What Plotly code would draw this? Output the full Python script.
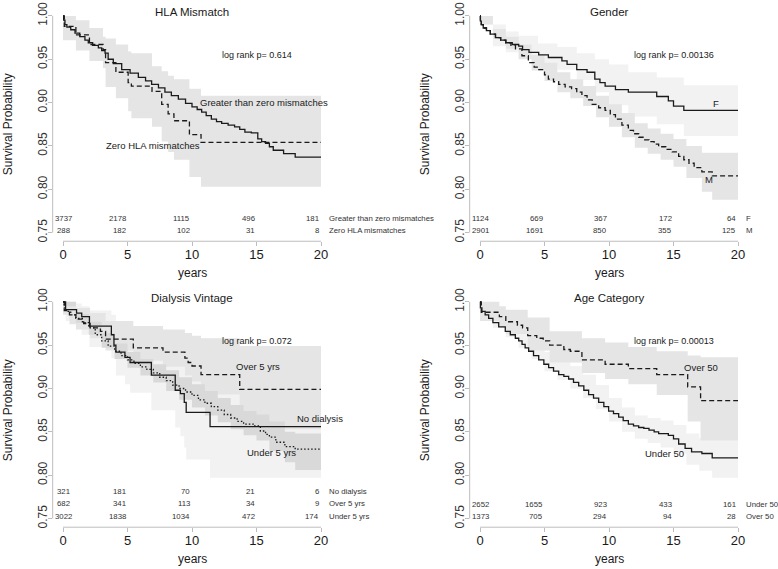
import plotly.graph_objects as go

# ---------------- data ----------------
x_ticks = [0, 5, 10, 15, 20]
y_ticks = [0.75, 0.80, 0.85, 0.90, 0.95, 1.00]
y_tick_labels = ["0.75", "0.80", "0.85", "0.90", "0.95", "1.00"]
risk_times = [0, 5, 10, 15, 20]

# HLA Mismatch
hla_gt0_t = [0, 0.05, 0.15, 0.3, 0.6, 0.93, 1.3, 1.7, 1.96, 2.3, 2.74, 3.0, 3.26, 3.5, 3.9, 4.55, 5.2, 5.84, 6.4, 6.87, 7.4, 7.9, 8.4, 8.94, 9.5, 10.0, 10.4, 10.75, 11.1, 11.5, 11.9, 12.3, 12.8, 13.3, 13.7, 14.1, 14.6, 15.1, 15.4, 15.7, 16.0, 16.3, 17.1, 18.0]
hla_gt0_s = [1.0, 0.995, 0.990, 0.987, 0.984, 0.980, 0.976, 0.972, 0.969, 0.966, 0.963, 0.960, 0.957, 0.950, 0.945, 0.938, 0.934, 0.929, 0.925, 0.921, 0.917, 0.912, 0.908, 0.904, 0.899, 0.895, 0.892, 0.889, 0.885, 0.881, 0.878, 0.876, 0.874, 0.872, 0.869, 0.866, 0.865, 0.858, 0.855, 0.853, 0.849, 0.845, 0.841, 0.837]
hla_zero_t = [0, 0.1, 1.0, 2.05, 3.1, 3.3, 4.1, 5.05, 5.3, 6.9, 7.65, 8.15, 8.6, 9.8, 10.7]
hla_zero_s = [1.0, 0.988, 0.978, 0.967, 0.961, 0.946, 0.935, 0.923, 0.919, 0.913, 0.898, 0.887, 0.879, 0.863, 0.854]
hla_zero_band_t = [0, 1.0, 2.05, 3.1, 3.3, 4.1, 5.05, 5.3, 6.9, 7.65, 8.15, 8.6, 9.8, 10.7]
hla_zero_band_hi = [1.0, 0.995, 0.986, 0.976, 0.974, 0.967, 0.959, 0.957, 0.942, 0.936, 0.931, 0.927, 0.916, 0.908]
hla_zero_band_lo = [0.972, 0.960, 0.948, 0.940, 0.918, 0.905, 0.890, 0.882, 0.872, 0.855, 0.843, 0.834, 0.814, 0.803]
hla_risk_gt0 = [3737, 2178, 1115, 496, 181]
hla_risk_zero = [288, 182, 102, 31, 8]

# Gender
f_t = [0, 0.03, 0.1, 0.25, 0.5, 0.8, 1.2, 1.6, 2.0, 2.5, 3.0, 3.3, 3.8, 4.55, 5.3, 6.35, 6.75, 7.5, 8.3, 8.9, 9.3, 9.7, 10.5, 11.5, 13.7, 14.6, 15.0, 15.8]
f_s = [1.0, 0.994, 0.99, 0.986, 0.983, 0.979, 0.975, 0.972, 0.969, 0.967, 0.965, 0.961, 0.958, 0.955, 0.952, 0.948, 0.944, 0.938, 0.935, 0.927, 0.923, 0.919, 0.915, 0.912, 0.907, 0.902, 0.896, 0.891]
m_t = [0, 0.03, 0.1, 0.25, 0.5, 0.8, 1.2, 1.6, 2.0, 2.4, 2.75, 3.25, 3.75, 4.2, 4.55, 5.0, 5.3, 5.7, 6.1, 6.6, 7.1, 7.5, 7.9, 8.3, 8.7, 9.2, 9.7, 10.1, 10.5, 11.0, 11.5, 11.9, 12.3, 12.7, 13.1, 13.5, 13.85, 14.4, 14.9, 15.4, 15.8, 16.2, 16.6, 17.2, 18.0]
m_s = [1.0, 0.994, 0.99, 0.986, 0.983, 0.979, 0.975, 0.972, 0.969, 0.966, 0.962, 0.954, 0.946, 0.941, 0.938, 0.932, 0.927, 0.924, 0.921, 0.918, 0.916, 0.912, 0.908, 0.903, 0.898, 0.894, 0.891, 0.886, 0.881, 0.874, 0.868, 0.864, 0.860, 0.857, 0.855, 0.852, 0.849, 0.846, 0.843, 0.838, 0.834, 0.830, 0.825, 0.820, 0.8155]
f_band_t = [0, 1.0, 2.0, 3.0, 4.5, 6.0, 7.5, 8.9, 10.0, 11.5, 13.7, 15.8]
f_band_hi = [1.0, 0.99, 0.982, 0.977, 0.968, 0.964, 0.957, 0.950, 0.944, 0.935, 0.929, 0.920]
f_band_lo = [0.99, 0.965, 0.958, 0.952, 0.944, 0.938, 0.926, 0.912, 0.897, 0.884, 0.875, 0.8615]
m_band_t = [0, 1.0, 2.0, 3.0, 4.0, 5.0, 6.0, 7.0, 8.0, 9.0, 10.0, 11.0, 12.0, 13.0, 14.0, 15.0, 16.0, 17.2, 18.0]
m_band_hi = [1.0, 0.985, 0.976, 0.967, 0.955, 0.946, 0.935, 0.927, 0.919, 0.908, 0.898, 0.888, 0.876, 0.870, 0.864, 0.858, 0.850, 0.842, 0.842]
m_band_lo = [0.99, 0.973, 0.962, 0.950, 0.937, 0.925, 0.912, 0.905, 0.896, 0.883, 0.872, 0.860, 0.848, 0.841, 0.834, 0.826, 0.813, 0.797, 0.788]
risk_f = [1124, 669, 367, 172, 64]
risk_m = [2901, 1691, 850, 355, 125]

# Dialysis Vintage
nod_t = [0, 0.2, 1.05, 1.45, 2.05, 3.75, 3.95, 4.1, 4.8, 5.2, 6.85, 8.7, 9.1, 9.4, 9.55, 11.4]
nod_s = [1.0, 0.991, 0.987, 0.983, 0.972, 0.962, 0.950, 0.942, 0.936, 0.930, 0.9155, 0.898, 0.894, 0.884, 0.8725, 0.856]
ov5_t = [0, 0.1, 0.5, 1.0, 1.6, 2.1, 2.9, 3.3, 5.45, 7.75, 9.45, 9.7, 10.0, 10.7, 13.7]
ov5_s = [1.0, 0.99, 0.985, 0.98, 0.975, 0.97, 0.966, 0.957, 0.947, 0.942, 0.935, 0.93, 0.926, 0.916, 0.899]
un5_t = [0, 0.1, 0.25, 0.6, 1.0, 1.5, 2.0, 2.5, 3.0, 3.5, 4.0, 4.5, 5.0, 5.5, 6.0, 6.5, 7.0, 7.5, 8.0, 8.5, 9.0, 9.5, 10.0, 10.5, 11.0, 11.5, 12.0, 12.5, 13.0, 13.5, 14.0, 14.8, 15.3, 15.7, 16.0, 16.5, 17.2, 18.0]
un5_s = [1.0, 0.993, 0.989, 0.985, 0.981, 0.976, 0.970, 0.962, 0.955, 0.949, 0.943, 0.938, 0.933, 0.929, 0.925, 0.922, 0.918, 0.913, 0.909, 0.904, 0.900, 0.896, 0.892, 0.887, 0.883, 0.879, 0.875, 0.870, 0.866, 0.862, 0.859, 0.857, 0.851, 0.847, 0.844, 0.838, 0.833, 0.830]
nod_band_t = [0, 0.2, 1.05, 1.45, 2.05, 3.75, 4.1, 4.8, 5.2, 6.85, 8.7, 9.1, 9.4, 9.55, 11.4]
nod_band_hi = [1.0, 1.0, 0.998, 0.995, 0.99, 0.985, 0.975, 0.970, 0.966, 0.957, 0.944, 0.940, 0.935, 0.928, 0.918]
nod_band_lo = [0.99, 0.978, 0.970, 0.962, 0.948, 0.935, 0.915, 0.905, 0.895, 0.875, 0.855, 0.845, 0.832, 0.818, 0.797]
ov5_band_t = [0, 0.5, 1.0, 2.1, 3.3, 5.45, 7.75, 9.45, 10.0, 10.7, 13.7]
ov5_band_hi = [1.0, 0.996, 0.993, 0.987, 0.978, 0.972, 0.968, 0.964, 0.961, 0.958, 0.949]
ov5_band_lo = [0.985, 0.974, 0.968, 0.958, 0.944, 0.932, 0.925, 0.915, 0.908, 0.893, 0.853]
un5_band_t = [0, 1.0, 2.0, 3.0, 4.0, 5.0, 6.0, 7.0, 8.0, 9.0, 10.0, 11.0, 12.0, 13.0, 14.0, 15.0, 16.0, 17.2, 18.0]
un5_band_hi = [1.0, 0.986, 0.977, 0.964, 0.952, 0.942, 0.934, 0.928, 0.921, 0.913, 0.905, 0.897, 0.889, 0.881, 0.874, 0.870, 0.862, 0.850, 0.848]
un5_band_lo = [0.995, 0.976, 0.962, 0.947, 0.934, 0.924, 0.915, 0.907, 0.897, 0.887, 0.878, 0.869, 0.861, 0.853, 0.846, 0.840, 0.828, 0.815, 0.806]
risk_nod = [321, 181, 70, 21, 6]
risk_ov5 = [682, 341, 113, 34, 9]
risk_un5 = [3022, 1838, 1034, 472, 174]

# Age Category
u50_t = [0, 0.03, 0.15, 0.4, 0.67, 1.0, 1.45, 1.96, 2.35, 2.74, 3.0, 3.26, 3.5, 3.77, 4.15, 4.55, 4.95, 5.32, 5.7, 6.1, 6.5, 6.87, 7.25, 7.65, 8.05, 8.42, 8.8, 9.2, 9.6, 9.97, 10.35, 10.75, 11.1, 11.5, 11.9, 12.3, 12.7, 13.1, 13.5, 13.85, 14.6, 15.0, 15.4, 15.9, 16.4, 17.2, 18.0]
u50_s = [1.0, 0.993, 0.989, 0.985, 0.981, 0.976, 0.971, 0.966, 0.962, 0.958, 0.955, 0.951, 0.947, 0.943, 0.938, 0.933, 0.928, 0.924, 0.920, 0.916, 0.914, 0.911, 0.907, 0.903, 0.898, 0.893, 0.889, 0.884, 0.879, 0.874, 0.871, 0.867, 0.863, 0.859, 0.857, 0.855, 0.854, 0.852, 0.850, 0.848, 0.846, 0.842, 0.836, 0.831, 0.827, 0.825, 0.820]
o50_t = [0, 0.1, 1.5, 2.0, 2.9, 3.3, 3.7, 4.4, 4.9, 5.4, 6.5, 7.0, 7.9, 9.7, 11.5, 13.7, 16.1, 17.1]
o50_s = [1.0, 0.988, 0.983, 0.977, 0.973, 0.970, 0.961, 0.958, 0.955, 0.950, 0.945, 0.943, 0.933, 0.928, 0.923, 0.916, 0.902, 0.886]
u50_band_t = [0, 1, 2, 3, 4, 5, 6, 7, 8, 9, 10, 11, 12, 13, 14, 15, 16, 17, 18]
u50_band_hi = [1.0, 0.983, 0.974, 0.965, 0.953, 0.942, 0.933, 0.926, 0.916, 0.904, 0.889, 0.878, 0.869, 0.866, 0.863, 0.858, 0.848, 0.843, 0.842]
u50_band_lo = [0.995, 0.970, 0.959, 0.947, 0.934, 0.920, 0.910, 0.900, 0.889, 0.876, 0.862, 0.850, 0.842, 0.837, 0.832, 0.825, 0.812, 0.805, 0.797]
o50_band_t = [0, 1.5, 2.0, 3.7, 5.4, 7.9, 9.7, 11.5, 13.7, 16.1, 17.1]
o50_band_hi = [1.0, 0.995, 0.991, 0.982, 0.966, 0.958, 0.953, 0.948, 0.943, 0.938, 0.936]
o50_band_lo = [0.978, 0.972, 0.963, 0.944, 0.930, 0.918, 0.911, 0.905, 0.8925, 0.862, 0.840]
risk_u50 = [2652, 1655, 923, 433, 161]
risk_o50 = [1373, 705, 294, 94, 28]

# ---------------- styling ----------------
FONT = "Liberation Sans, Arial, Helvetica, sans-serif"
LINE = "#1a1a1a"
G_LIGHT = "#f2f2f2"
G_MED = "#e5e5e5"
G_DARK = "#d9d9d9"
AXC = "#bdbdbd"
W, H = 778, 569
T_END = 20.0


def steps(t, v, tend=T_END):
    xs, ys = [], []
    for i in range(len(t)):
        x1 = t[i + 1] if i + 1 < len(t) else tend
        xs += [t[i], x1]
        ys += [v[i], v[i]]
    return xs, ys


def band_poly(t, lo, hi):
    xu, yu = steps(t, hi)
    xl, yl = steps(t, lo)
    return xu + xl[::-1] + [xu[0]], yu + yl[::-1] + [yu[0]]


panels = [
    dict(title="HLA Mismatch", p="0.614", px0=63, py1=11,
         bands=[(hla_zero_band_t, hla_zero_band_lo, hla_zero_band_hi, G_MED)],
         curves=[(hla_gt0_t, hla_gt0_s, "solid"), (hla_zero_t, hla_zero_s, "dash")],
         labels=[("Greater than zero mismatches", 15.6, 0.897), ("Zero HLA mismatches", 7.0, 0.847)],
         risk=[("Greater than zero mismatches", hla_risk_gt0), ("Zero HLA mismatches", hla_risk_zero)]),
    dict(title="Gender", p="0.00136", px0=480, py1=11,
         bands=[(f_band_t, f_band_lo, f_band_hi, G_LIGHT), (m_band_t, m_band_lo, m_band_hi, G_MED)],
         curves=[(f_t, f_s, "solid"), (m_t, m_s, "dash")],
         labels=[("F", 18.3, 0.896), ("M", 17.75, 0.808)],
         risk=[("F", risk_f), ("M", risk_m)]),
    dict(title="Dialysis Vintage", p="0.072", px0=63, py1=300,
         bands=[(nod_band_t, nod_band_lo, nod_band_hi, G_LIGHT), (ov5_band_t, ov5_band_lo, ov5_band_hi, G_MED),
                (un5_band_t, un5_band_lo, un5_band_hi, G_DARK)],
         curves=[(nod_t, nod_s, "solid"), (ov5_t, ov5_s, "dash"), (un5_t, un5_s, "dot")],
         labels=[("Over 5 yrs", 15.15, 0.922), ("No dialysis", 19.9, 0.862), ("Under 5 yrs", 16.2, 0.823)],
         risk=[("No dialysis", risk_nod), ("Over 5 yrs", risk_ov5), ("Under 5 yrs", risk_un5)]),
    dict(title="Age Category", p="0.00013", px0=480, py1=300,
         bands=[(u50_band_t, u50_band_lo, u50_band_hi, G_LIGHT), (o50_band_t, o50_band_lo, o50_band_hi, G_MED)],
         curves=[(u50_t, u50_s, "solid"), (o50_t, o50_s, "dash")],
         labels=[("Over 50", 17.1, 0.921), ("Under 50", 14.3, 0.821)],
         risk=[("Under 50", risk_u50), ("Over 50", risk_o50)]),
]

DASH = {"solid": "solid", "dash": "5px,3px", "dot": "1.5px,2px"}
PXX = 12.9   # px per year
PXY = 876.0  # px per survival unit
XR = [-0.8, 20.8]
YR = [0.74, 1.01]
YS = 2  # small upward nudge so text sits like R's centred text

fig = go.Figure()
layout = dict(width=W, height=H, margin=dict(l=0, r=0, t=0, b=0, pad=0),
              paper_bgcolor="white", plot_bgcolor="white", showlegend=False,
              font=dict(family=FONT, color="#1a1a1a"), hovermode=False)
annotations = []
shapes = []

for k, pn in enumerate(panels):
    i = k + 1
    xa = "x" if i == 1 else f"x{i}"
    ya = "y" if i == 1 else f"y{i}"
    xl = pn["px0"] + XR[0] * PXX
    xr = pn["px0"] + XR[1] * PXX
    ytop = pn["py1"] - (YR[1] - 1.0) * PXY
    ybot = pn["py1"] + (1.0 - YR[0]) * PXY
    layout["xaxis" if i == 1 else f"xaxis{i}"] = dict(
        domain=[xl / W, xr / W], range=XR, anchor=ya, showgrid=False, zeroline=False,
        showline=False, ticks="outside", ticklen=4, tickcolor=AXC, tickwidth=1,
        ticklabelstandoff=-3,
        tickvals=x_ticks, ticktext=[str(v) for v in x_ticks],
        tickfont=dict(size=13, color="#1a1a1a"), fixedrange=True)
    layout["yaxis" if i == 1 else f"yaxis{i}"] = dict(
        domain=[1 - ybot / H, 1 - ytop / H], range=YR, anchor=xa, showgrid=False, zeroline=False,
        showline=False, ticks="outside", ticklen=4, tickcolor=AXC, tickwidth=1,
        ticklabelstandoff=-4,
        tickvals=y_ticks, ticktext=y_tick_labels, tickangle=-90,
        tickfont=dict(size=12, color="#333333"), fixedrange=True)
    # R-style axis lines spanning first..last tick
    shapes.append(dict(type="line", xref=xa, yref=f"{ya} domain", x0=x_ticks[0], x1=x_ticks[-1], y0=0, y1=0,
                       line=dict(color=AXC, width=1)))
    shapes.append(dict(type="line", xref=f"{xa} domain", yref=ya, x0=0, x1=0, y0=y_ticks[0], y1=y_ticks[-1],
                       line=dict(color=AXC, width=1)))

    for (bt, blo, bhi, col) in pn["bands"]:
        bx, by = band_poly(bt, blo, bhi)
        fig.add_trace(go.Scatter(x=bx, y=by, xaxis=xa, yaxis=ya, mode="lines", fill="toself",
                                 fillcolor=col, line=dict(width=0, color=col), hoverinfo="skip"))
    for (ct, cs, style) in pn["curves"]:
        cx, cy = steps(ct, cs)
        fig.add_trace(go.Scatter(x=cx, y=cy, xaxis=xa, yaxis=ya, mode="lines",
                                 line=dict(color=LINE, width=1.3, dash=DASH[style])))

    # title and log-rank
    annotations.append(dict(xref=xa, yref=ya, x=10, y=1.0, yshift=YS + 2, text=pn["title"], showarrow=False,
                            font=dict(size=11.5, color="#1a1a1a"), xanchor="center", yanchor="middle"))
    annotations.append(dict(xref=xa, yref=ya, x=15, y=0.95, yshift=YS + 2, text="log rank p= " + pn["p"],
                            showarrow=False, font=dict(size=9, color="#1a1a1a"),
                            xanchor="center", yanchor="middle"))
    for (txt, lx, ly) in pn["labels"]:
        annotations.append(dict(xref=xa, yref=ya, x=lx, y=ly, yshift=YS + 1, text=txt, showarrow=False,
                                font=dict(size=9.5, color="#1a1a1a"), xanchor="center", yanchor="middle"))
    # numbers at risk
    n = len(pn["risk"])
    gap = 0.0137 if n == 2 else 0.0146
    for r, (name, counts) in enumerate(pn["risk"]):
        ry = 0.75 + (n - 1 - r) * gap
        for j, (tt, c) in enumerate(zip(risk_times, counts)):
            annotations.append(dict(xref=xa, yref=ya, x=tt, y=ry, yshift=YS, text=str(c), showarrow=False,
                                    font=dict(size=7.8, color="#333333"),
                                    xanchor="center" if j == 0 else "right", yanchor="middle"))
        annotations.append(dict(xref=xa, yref=ya, x=20.5, y=ry, yshift=YS, text=name, showarrow=False,
                                font=dict(size=7.8, color="#333333"), xanchor="left", yanchor="middle"))
    # axis titles (paper coordinates, outside the data range)
    annotations.append(dict(xref="paper", yref="paper", x=(pn["px0"] + 10 * PXX) / W,
                            y=1 - (pn["py1"] + 262) / H, yshift=YS, text="years", showarrow=False,
                            font=dict(size=12, color="#1a1a1a"), xanchor="center", yanchor="middle"))
    annotations.append(dict(xref="paper", yref="paper", x=(pn["px0"] - 55) / W,
                            y=1 - (pn["py1"] + 0.125 * PXY) / H, text="Survival Probability",
                            showarrow=False, textangle=-90, font=dict(size=12, color="#1a1a1a"),
                            xanchor="center", yanchor="middle"))

layout["annotations"] = annotations
layout["shapes"] = shapes
fig.update_layout(**layout)
fig.write_html("out.html", config={"displayModeBar": False, "staticPlot": True},
               post_script="document.body.style.margin='0px';document.body.style.padding='0px';")
